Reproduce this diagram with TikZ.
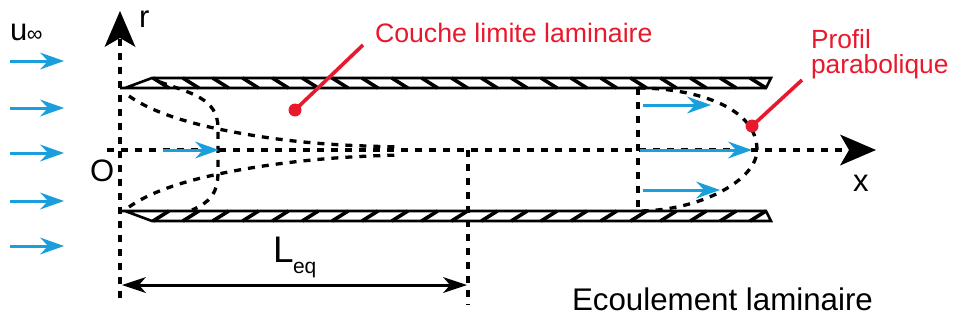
\documentclass[tikz,border=0pt]{standalone}
\usepackage{fontspec}
\setmainfont{Liberation Sans}
\usetikzlibrary{arrows.meta}
\definecolor{flowblue}{HTML}{1B9FDC}
\definecolor{notered}{HTML}{E8192C}
\newcommand{\fsz}[1]{\fontsize{#1}{#1}\selectfont}
\tikzset{
  x=1pt,y=-1pt,
  lbl/.style={inner sep=0pt,outer sep=0pt,anchor=base west,text=black},
  rednote/.style={lbl,text=notered},
  dash6/.style={line width=3.3pt,dash pattern=on 7pt off 7pt,black},
  axisarrow/.style={dash6,-{Stealth[length=36pt,width=31pt,inset=9pt,line width=0pt]}},
  flowarrow/.style={line width=3pt,flowblue,-{Stealth[length=24pt,width=17pt,inset=8pt,line width=0pt]}},
  wall/.style={line width=2.6pt,black,line join=miter},
  hatch/.style={line width=3.6pt,black},
  leader/.style={line width=3.6pt,notered},
  dot/.style={circle,fill=notered,inner sep=0pt,minimum size=13pt},
  dim/.style={line width=3pt,black,{Stealth[length=24pt,width=16pt,inset=7pt,line width=0pt]}-{Stealth[length=24pt,width=16pt,inset=7pt,line width=0pt]}},
}
\begin{document}
\begin{tikzpicture}
\useasboundingbox (0,0) rectangle (953,327);
% hatching
\foreach \i in {0,...,20}{
  \pgfmathsetmacro{\a}{153+29.85*\i}
  \draw[hatch] (\a,78) -- (\a+16,88);
  \draw[hatch] (\a,221) -- (\a+16,211);
}
% walls
\draw[wall] (120,88) -- (766,88) -- (771,78) -- (152,78) -- (125,88);
\draw[wall] (120,211) -- (766,211) -- (771,221) -- (152,221) -- (125,211);
% coordinates
\coordinate (rstart) at (120,298);
\coordinate (rend) at (120,11);
\coordinate (xstart) at (107,150);
\coordinate (xend) at (876,150);
\coordinate (eqtop) at (468,150);
\coordinate (eqbot) at (468,305);
\coordinate (ptop) at (638,88);
\coordinate (pbot) at (638,211);
\coordinate (dimL) at (122,285);
\coordinate (dimR) at (467,285);
% dashed boundary layer and profiles
\draw[dash6] (129,96) .. controls (160,118) and (215,130) .. (270,138) .. controls (320,145) and (360,146) .. (401,147);
\draw[dash6] (129,207) .. controls (160,185) and (215,173) .. (270,165) .. controls (320,158) and (360,156) .. (401,155);
\draw[dash6] (160,82) .. controls (190,93) and (218,98) .. (218,128) -- (218,172) .. controls (218,195) and (208,203) .. (192,210);
\draw[dash6] (ptop) .. controls (690,88) and (757,105) .. (757,150) .. controls (757,180) and (700,211) .. (pbot);
\draw[dash6] (ptop) -- (pbot);
\draw[dash6] (eqtop) -- (eqbot);
% axes
\draw[axisarrow] (rstart) -- (rend);
\draw[axisarrow] (xstart) -- (xend);
% dimension
\draw[dim] (dimL) -- (dimR);
% blue inlet arrows
\foreach \n/\y in {a/61,b/108,c/153,d/201,e/246}{
  \coordinate (in\n) at (10,\y);
  \coordinate (out\n) at (64,\y);
  \draw[flowarrow] (in\n) -- (out\n);
}
% blue inner arrows
\coordinate (f1s) at (163,150); \coordinate (f1e) at (219,150);
\coordinate (f2s) at (643,105); \coordinate (f2e) at (711,105);
\coordinate (f3s) at (640,150); \coordinate (f3e) at (752,150);
\coordinate (f4s) at (643,190); \coordinate (f4e) at (720,190);
\draw[flowarrow] (f1s) -- (f1e);
\draw[flowarrow] (f2s) -- (f2e);
\draw[flowarrow] (f3s) -- (f3e);
\draw[flowarrow] (f4s) -- (f4e);
% red notes
\node[dot] (d1) at (295,110) {};
\node[dot] (d2) at (752,126) {};
\coordinate (l1) at (363,45);
\coordinate (l2) at (802,80);
\draw[leader] (d1.center) -- (l1);
\draw[leader] (d2.center) -- (l2);
\node[rednote,font=\fsz{26.7}] (couche) at (375,42) {Couche limite laminaire};
\node[rednote,font=\fsz{26.3}] (profil) at (811,48) {Profil};
\node[rednote,font=\fsz{26.3}] (para) at (811,73) {parabolique};
% black labels
\node[lbl,font=\fsz{31}] (u) at (10,40) {u};
\node[lbl,font=\fsz{22}] (inf) at (27,41) {∞};
\node[lbl,font=\fsz{31}] (r) at (139,27) {r};
\node[lbl,font=\fsz{31}] (O) at (90,181) {O};
\node[lbl,font=\fsz{31}] (x) at (853,191) {x};
\node[lbl,font=\fsz{37}] (L) at (273,262) {L};
\node[lbl,font=\fsz{21}] (eq) at (293,273) {eq};
\node[lbl,font=\fsz{31.3}] (ecoul) at (572,310) {Ecoulement laminaire};
\end{tikzpicture}
\end{document}
